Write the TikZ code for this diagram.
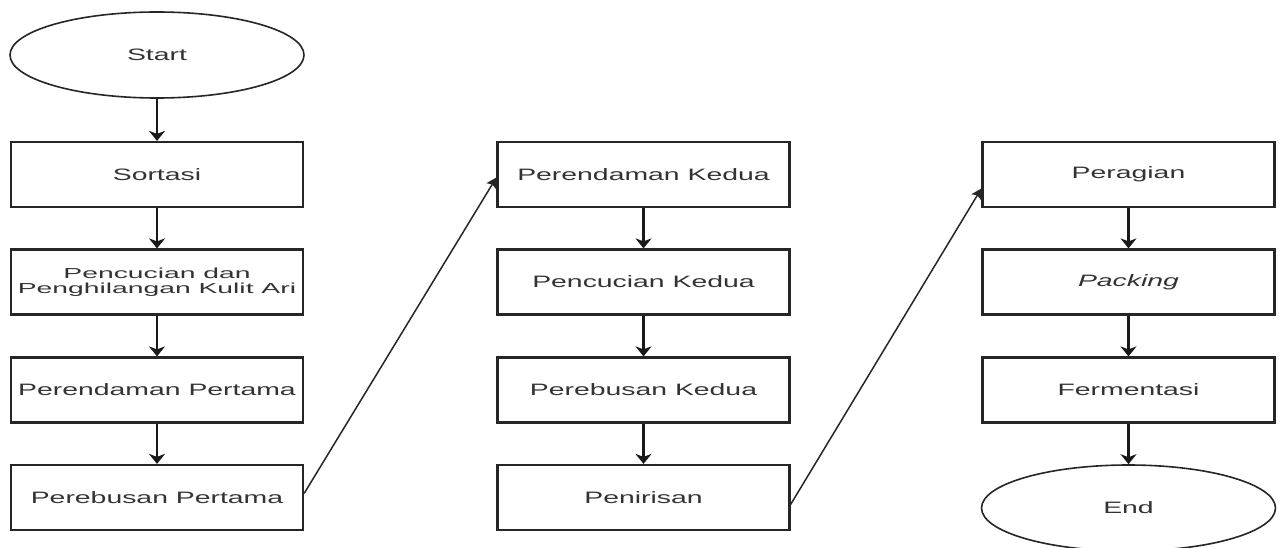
\documentclass[tikz,border=0pt]{standalone}
\usepackage{graphicx}
\usepackage{fontspec}
\setmainfont{Liberation Sans}
\usetikzlibrary{shapes.geometric,arrows.meta}
\newcommand{\widetext}[2][1.72]{\scalebox{#1}[1]{#2}}
\tikzset{
  procbox/.style={draw=black!85, line width=2.2pt, minimum width=292pt, minimum height=65pt,
    inner sep=0pt, text=black!80, font=\fontsize{16.5}{17}\selectfont, align=center},
  termnode/.style={ellipse, draw=black!85, line width=1.6pt, minimum width=294pt, minimum height=86pt,
    inner sep=0pt, text=black!80, font=\fontsize{16.5}{17}\selectfont},
  flowarrow/.style={line width=2.4pt, draw=black!90, -{Stealth[length=10pt,width=16pt,inset=3pt]}},
  jumparrow/.style={line width=1.5pt, draw=black!85, -{Stealth[length=10pt,width=11pt,inset=2pt]}}
}
\begin{document}
\begin{tikzpicture}[x=1pt, y=-1pt]
\useasboundingbox[fill=white] (0,0) rectangle (1281,548);
% first column
\node[termnode] (start) at (157,55) {\widetext{Start}};
\node[procbox] (sortasi) at (157,174.5) {\widetext{Sortasi}};
\node[procbox, font=\fontsize{14.5}{15}\selectfont] (cuci1) at (157,282)
  {\widetext[1.95]{Pencucian dan}\\\widetext[1.95]{Penghilangan Kulit Ari}};
\node[procbox] (rendam1) at (157,390) {\widetext{Perendaman Pertama}};
\node[procbox] (rebus1) at (157,497.5) {\widetext{Perebusan Pertama}};
% second column
\node[procbox] (rendam2) at (643.5,174.5) {\widetext{Perendaman Kedua}};
\node[procbox] (cuci2) at (643.5,282) {\widetext{Pencucian Kedua}};
\node[procbox] (rebus2) at (643.5,390) {\widetext{Perebusan Kedua}};
\node[procbox] (tiris) at (643.5,497.5) {\widetext{Penirisan}};
% third column
\node[procbox] (ragi) at (1128.5,174.5) {\widetext{Peragian}};
\node[procbox] (packing) at (1128.5,282) {\widetext{\itshape Packing}};
\node[procbox] (fermen) at (1128.5,390) {\widetext{Fermentasi}};
\node[termnode] (end) at (1128.5,508) {\widetext{End}};
% arrows
\draw[flowarrow] (start) -- (sortasi);
\draw[flowarrow] (sortasi) -- (cuci1);
\draw[flowarrow] (cuci1) -- (rendam1);
\draw[flowarrow] (rendam1) -- (rebus1);
\draw[flowarrow] (rendam2) -- (cuci2);
\draw[flowarrow] (cuci2) -- (rebus2);
\draw[flowarrow] (rebus2) -- (tiris);
\draw[flowarrow] (ragi) -- (packing);
\draw[flowarrow] (packing) -- (fermen);
\draw[flowarrow] (fermen) -- (end);
\coordinate (out1) at ([yshift=4pt]rebus1.east);
\coordinate (in1) at ([yshift=-3pt]rendam2.west);
\coordinate (out2) at ([yshift=-7pt]tiris.east);
\coordinate (in2) at ([yshift=-14pt]ragi.west);
\draw[jumparrow] (out1) -- (in1);
\draw[jumparrow] (out2) -- (in2);
\end{tikzpicture}
\end{document}
